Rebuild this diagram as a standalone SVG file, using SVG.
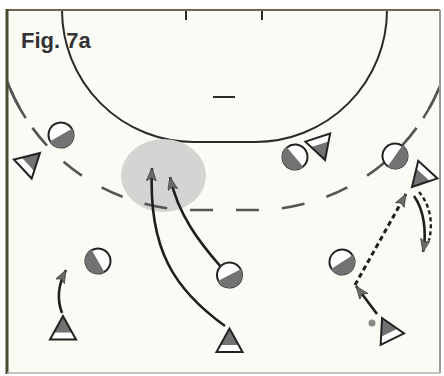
<svg xmlns="http://www.w3.org/2000/svg" xmlns:xlink="http://www.w3.org/1999/xlink" width="444" height="376" viewBox="0 0 444 376">
<style>
.line{fill:none;stroke:#2a2a2a;stroke-width:2;}
.nine{fill:none;stroke:#555;stroke-width:2.6;stroke-dasharray:23 23;stroke-dashoffset:34.5;}
.arr{fill:none;stroke:#1e1e1e;stroke-width:2.6;}
.pass{fill:none;stroke:#1e1e1e;stroke-width:3;stroke-dasharray:5 3.5;}
.grey{fill:#727272;}
.wht{fill:#fff;}
.out{fill:none;stroke:#222;stroke-width:2;}
</style>
<defs>
<clipPath id="court"><rect x="7" y="10" width="433" height="363"/></clipPath>
<marker id="ah" markerUnits="userSpaceOnUse" markerWidth="16" markerHeight="12" refX="13" refY="5" orient="auto">
<path d="M0,0 L13,5 L0,10 L3,5 Z" fill="#6a6a6a" stroke="#444" stroke-width="0.8"/>
</marker>
<g id="def">
<circle r="12.5" fill="#fff" stroke="#222" stroke-width="2"/>
<path d="M-13,0 A13,13 0 0 0 13,0 Z" class="grey"/>
</g>
<g id="att">
<polygon points="0,-15 -13,8.5 13,8.5" class="wht"/>
<polygon points="0,-15 -9.1,1.5 9.1,1.5" class="grey"/>
<polygon points="0,-15 -13,8.5 13,8.5" class="out"/>
</g>
</defs>
<rect x="0" y="0" width="444" height="376" fill="#fff"/>
<rect x="7" y="10" width="433" height="363" fill="#fbfbf6"/>
<g id="court-lines" clip-path="url(#court)">
<path class="line" d="M62,10 A132,132 0 0 0 194,142 H255 A132,132 0 0 0 387,10"/>
<line class="line" x1="186" y1="10" x2="186" y2="20"/>
<line class="line" x1="262" y1="10" x2="262" y2="20"/>
<line class="line" x1="213" y1="97" x2="235" y2="97"/>
<ellipse cx="163.5" cy="175.5" rx="42.5" ry="36.5" fill="#d4d4d2"/>
<path class="nine" d="M224.5,210 H255 A200,200 0 0 0 455,10"/>
<path class="nine" d="M224.5,210 H194 A200,200 0 0 1 -6,10"/>
<path fill="none" stroke="#555" stroke-width="2.6" d="M423.3,118.1 A200,200 0 0 0 450.6,51.8"/>
<path fill="none" stroke="#555" stroke-width="2.6" d="M25.7,118.1 A200,200 0 0 1 -1.6,51.8"/>
</g>
<g id="frame">
<line x1="7" y1="10" x2="440" y2="10" stroke="#7a6252" stroke-width="2"/>
<line x1="7" y1="9" x2="7" y2="374" stroke="#4a4a2c" stroke-width="3"/>
<line x1="440" y1="10" x2="440" y2="373" stroke="#9a9a9a" stroke-width="2"/>
<line x1="7" y1="373" x2="440" y2="373" stroke="#b0b0b0" stroke-width="1.5"/>
</g>
<text id="title" x="21" y="48" font-family="Liberation Sans, Arial, sans-serif" font-weight="bold" font-size="22" fill="#333">Fig. 7a</text>
<g id="connectors">
<path class="arr" d="M62,313 C57,300 58,285 66,270" marker-end="url(#ah)"/>
<path class="arr" d="M225,326 C175,290 148,250 152,168" marker-end="url(#ah)"/>
<path class="arr" d="M221,267 C200,243 178,215 170,177" marker-end="url(#ah)"/>
<path class="arr" d="M377,314 L356,286" marker-end="url(#ah)"/>
<path class="pass" d="M355,285 L406,194" marker-end="url(#ah)"/>
<path class="arr" d="M414,196 C424,210 427,232 423,252" marker-end="url(#ah)"/>
<path fill="none" stroke="#1e1e1e" stroke-width="2.4" stroke-dasharray="4 3" d="M419,192 C431,206 433,225 429,240"/>
</g>
<g id="d1"><use xlink:href="#def" transform="translate(61,135) rotate(-30)"/></g>
<g id="d2"><use xlink:href="#def" transform="translate(295,157) rotate(50)"/></g>
<g id="d3"><use xlink:href="#def" transform="translate(395,156) rotate(-55)"/></g>
<g id="d4"><use xlink:href="#def" transform="translate(98,261) rotate(60)"/></g>
<g id="d5"><use xlink:href="#def" transform="translate(229.5,275) rotate(-27)"/></g>
<g id="d6"><use xlink:href="#def" transform="translate(342,262) rotate(-33)"/></g>
<g id="a1"><use xlink:href="#att" transform="translate(29,163.2) rotate(47)"/></g>
<g id="a2"><use xlink:href="#att" transform="translate(63,331)"/></g>
<g id="a3"><use xlink:href="#att" transform="translate(229.5,343.5)"/></g>
<g id="a4"><use xlink:href="#att" transform="translate(388.6,331.5) rotate(-26)"/></g>
<g id="a5"><use xlink:href="#att" transform="translate(320.4,145.7) rotate(162)"/></g>
<g id="a6"><use xlink:href="#att" transform="translate(422.1,175.9) rotate(-137.5)"/></g>
<g id="ball"><circle cx="372" cy="323" r="3.5" fill="#8a8a8a"/></g>
</svg>
